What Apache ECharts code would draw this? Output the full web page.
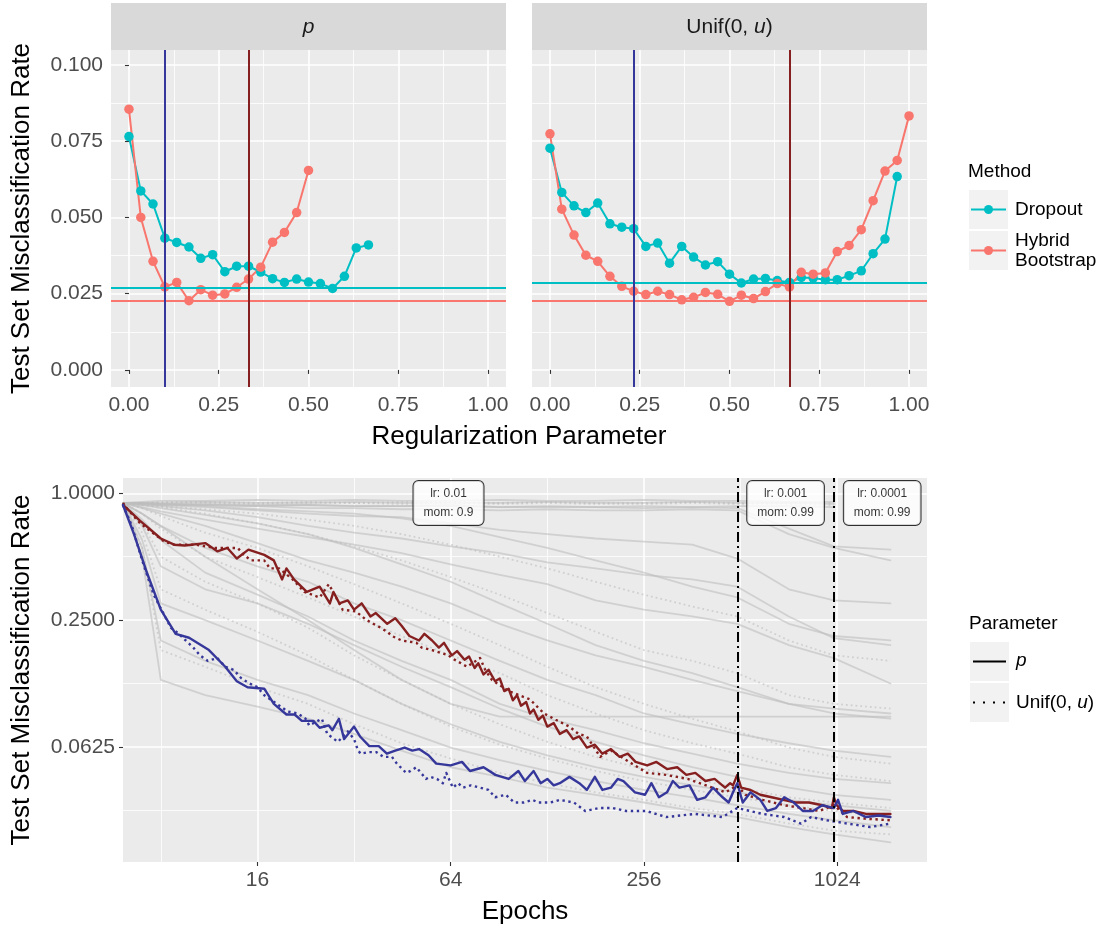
<!DOCTYPE html>
<html>
<head>
<meta charset="utf-8">
<script src="https://cdn.jsdelivr.net/npm/echarts@6/dist/echarts.min.js"></script>
<style>
  html, body { margin: 0; padding: 0; background: #fff; }
  #chart { width: 1099px; height: 928px; }
</style>
</head>
<body>
<div id="chart"></div>
<script>
// ---- top panels: misclassification vs regularization parameter ----
const paramValues = [0, 0.033, 0.067, 0.1, 0.133, 0.167, 0.2, 0.233, 0.267, 0.3, 0.333, 0.367, 0.4, 0.433, 0.467, 0.5,
  0.533, 0.567, 0.6, 0.633, 0.667, 0.7, 0.733, 0.767, 0.8, 0.833, 0.867, 0.9, 0.933, 0.967, 1.0];
const dropoutP = [0.0765, 0.0587, 0.0544, 0.0432, 0.0418, 0.0403, 0.0366, 0.0378, 0.0322, 0.0340, 0.0340, 0.0321,
  0.0299, 0.0287, 0.0298, 0.0288, 0.0283, 0.0267, 0.0307, 0.0400, 0.0410];
const hybridP = [0.0855, 0.0500, 0.0356, 0.0272, 0.0287, 0.0227, 0.0263, 0.0245, 0.0249, 0.0271, 0.0298, 0.0337,
  0.0419, 0.0451, 0.0516, 0.0654];
const dropoutU = [0.0727, 0.0582, 0.0538, 0.0516, 0.0547, 0.0479, 0.0468, 0.0463, 0.0405, 0.0416, 0.0350, 0.0405,
  0.0370, 0.0344, 0.0355, 0.0314, 0.0285, 0.0298, 0.0300, 0.0293, 0.0287, 0.0303, 0.0301, 0.0296, 0.0296, 0.0309,
  0.0325, 0.0381, 0.0429, 0.0634];
const hybridU = [0.0774, 0.0527, 0.0442, 0.0376, 0.0356, 0.0307, 0.0274, 0.0258, 0.0247, 0.0258, 0.0247, 0.0230,
  0.0238, 0.0254, 0.0248, 0.0225, 0.0245, 0.0234, 0.0257, 0.0283, 0.0272, 0.0320, 0.0314, 0.0318, 0.0388, 0.0408,
  0.0460, 0.0555, 0.0652, 0.0687, 0.0833];
const baseDropout = [0.0269, 0.0286];   // per facet: p, Unif(0, u)
const baseHybrid = [0.0227, 0.0227];
const bestP = [0.1, 0.3333];            // blue, dark red
const bestU = [0.2333, 0.6667];
const paramTicks = [0, 0.25, 0.5, 0.75, 1];
const paramMinor = [0.125, 0.375, 0.625, 0.875];
const rateTicksTop = [0, 0.025, 0.05, 0.075, 0.1];
const rateMinorTop = [0.0125, 0.0375, 0.0625, 0.0875];

// ---- bottom panel: misclassification vs epochs ----
const epochTicks = [16, 64, 256, 1024];
const epochMinor = [8, 32, 128, 512];
const rateTicks = [0.0625, 0.25, 1];
const rateMinor = [0.03125, 0.125, 0.5];
const lrChanges = [500, 1000];
const lrLabels = ['lr: 0.01\nmom: 0.9', 'lr: 0.001\nmom: 0.99', 'lr: 0.0001\nmom: 0.99'];
const lrLabelEpochs = [63, 707, 1414];
const lrLabelRate = 0.9;

const redSolid = [[6.1, 0.88], [6.9, 0.74], [8, 0.61], [8.8, 0.57], [9.5, 0.565], [11, 0.58], [12, 0.53], [12.9, 0.55],
  [13.8, 0.49], [15, 0.54], [16.8, 0.51], [18, 0.48], [19.1, 0.39], [19.7, 0.44], [20.8, 0.39], [22.8, 0.34], [25, 0.36],
  [26.9, 0.30], [27.6, 0.34], [28.8, 0.30], [30.6, 0.31], [32, 0.28], [33.8, 0.30], [36, 0.26], [37.4, 0.27], [40.6, 0.24],
  [43, 0.255], [45, 0.235], [47.6, 0.21], [51, 0.20], [53, 0.215], [56, 0.20], [58.8, 0.185], [61, 0.195], [64.5, 0.17],
  [67, 0.178], [70.7, 0.162], [73, 0.168], [76, 0.148], [78, 0.156], [81, 0.138], [84, 0.145], [88, 0.128], [91, 0.132],
  [94, 0.115], [97, 0.118], [100, 0.104], [103, 0.11], [106, 0.098], [110, 0.102], [113, 0.09], [116, 0.094], [120, 0.084],
  [124, 0.088], [128, 0.078], [134, 0.081], [140, 0.072], [147, 0.075], [154, 0.068], [161, 0.07], [170, 0.062], [180, 0.064],
  [190, 0.058], [202, 0.061], [215, 0.056], [228, 0.058], [241, 0.053], [262, 0.051], [280, 0.053], [302, 0.049], [325, 0.05],
  [347, 0.046], [370, 0.047], [398, 0.043], [425, 0.044], [458, 0.040], [475, 0.042], [485, 0.041], [500, 0.046], [514, 0.040],
  [550, 0.039], [590, 0.037], [640, 0.036], [695, 0.035], [760, 0.034], [836, 0.034], [920, 0.033], [985, 0.032], [1000, 0.036],
  [1020, 0.033], [1066, 0.031], [1150, 0.031], [1259, 0.030], [1380, 0.030], [1500, 0.030]];
const redDotted = [[6.1, 0.9], [6.3, 0.84], [6.9, 0.72], [8.2, 0.59], [8.8, 0.57], [9.5, 0.57], [10.3, 0.57], [11, 0.56],
  [11.8, 0.55], [13.9, 0.55], [14.5, 0.51], [15.3, 0.48], [16.8, 0.48], [17.5, 0.44], [18.7, 0.44], [20.6, 0.39], [22.4, 0.34],
  [25, 0.32], [26.7, 0.37], [29.5, 0.28], [32.4, 0.275], [35, 0.25], [38.7, 0.23], [40.6, 0.22], [42, 0.21], [45, 0.2],
  [50, 0.195], [52, 0.185], [56, 0.18], [63, 0.17], [64.5, 0.165], [72, 0.15], [79, 0.165], [82, 0.145], [86, 0.13],
  [97, 0.115], [113, 0.105], [125, 0.09], [136, 0.084], [150, 0.078], [160, 0.072], [170, 0.07], [187, 0.056], [202, 0.06],
  [235, 0.052], [262, 0.047], [300, 0.046], [350, 0.044], [400, 0.041], [460, 0.038], [500, 0.041], [530, 0.037], [600, 0.035],
  [700, 0.033], [800, 0.032], [900, 0.031], [1000, 0.033], [1100, 0.029], [1250, 0.0285], [1500, 0.028]];
const blueSolid = [[6.1, 0.88], [6.6, 0.64], [7.2, 0.43], [8, 0.28], [8.9, 0.215], [9.8, 0.206], [11.3, 0.18], [12.7, 0.15],
  [13.8, 0.128], [14.9, 0.12], [16.8, 0.118], [18, 0.10], [19.7, 0.089], [20.9, 0.089], [22, 0.083], [23.9, 0.083], [25, 0.077],
  [26.7, 0.079], [27.4, 0.075], [28.7, 0.085], [29.8, 0.068], [32, 0.078], [33.4, 0.07], [35.7, 0.063], [38.2, 0.063],
  [40.5, 0.058], [43, 0.06], [46, 0.062], [48.6, 0.06], [51, 0.061], [54.6, 0.057], [57.7, 0.052], [64, 0.051], [69.4, 0.053],
  [73.5, 0.048], [81, 0.05], [88.2, 0.046], [97, 0.044], [104, 0.048], [109, 0.043], [116, 0.048], [122, 0.042], [128, 0.044],
  [134, 0.041], [140, 0.042], [150, 0.045], [161, 0.042], [170, 0.039], [180, 0.045], [190, 0.039], [202, 0.04], [212, 0.044],
  [221, 0.043], [240, 0.038], [258, 0.037], [270, 0.042], [285, 0.036], [302, 0.038], [315, 0.043], [330, 0.04], [355, 0.041],
  [375, 0.035], [398, 0.036], [420, 0.04], [450, 0.036], [470, 0.034], [485, 0.038], [500, 0.042], [520, 0.034], [550, 0.038],
  [590, 0.035], [620, 0.031], [660, 0.032], [700, 0.036], [750, 0.034], [800, 0.031], [860, 0.031], [920, 0.033], [1000, 0.032],
  [1030, 0.035], [1066, 0.03], [1150, 0.031], [1259, 0.029], [1380, 0.0295], [1500, 0.029]];
const blueDotted = [[6.1, 0.88], [6.5, 0.7], [7.0, 0.48], [7.6, 0.33], [8.6, 0.23], [9.1, 0.215], [10.1, 0.185], [10.6, 0.17],
  [11.2, 0.16], [12, 0.165], [12.7, 0.15], [13.5, 0.145], [14.2, 0.133], [15.1, 0.125], [16, 0.12], [16.8, 0.11], [19.9, 0.092],
  [21.4, 0.09], [22.6, 0.085], [23.2, 0.079], [25.4, 0.085], [26.4, 0.072], [28.5, 0.066], [30.6, 0.074], [32, 0.068],
  [32.8, 0.061], [33.5, 0.058], [35.5, 0.059], [37.5, 0.059], [39.5, 0.056], [42, 0.056], [43.5, 0.052], [46.5, 0.047],
  [48, 0.048], [50, 0.05], [53.6, 0.044], [55.3, 0.045], [58, 0.044], [60.5, 0.042], [62, 0.047], [65, 0.04], [67.5, 0.042],
  [70, 0.04], [74, 0.041], [79, 0.04], [84, 0.039], [88, 0.036], [95, 0.037], [101, 0.034], [108, 0.034], [115, 0.035],
  [120, 0.034], [131, 0.034], [140, 0.035], [155, 0.034], [168, 0.031], [185, 0.032], [205, 0.032], [225, 0.031], [260, 0.031],
  [300, 0.029], [370, 0.03], [450, 0.029], [500, 0.032], [600, 0.03], [700, 0.029], [790, 0.027], [850, 0.029], [950, 0.028],
  [1100, 0.027], [1300, 0.026], [1500, 0.027]];

// background runs, sampled at these epochs (null = run not recorded)
const grayEpochs = [6.1, 7, 8, 11, 16, 23, 32, 45, 64, 91, 128, 181, 256, 362, 500, 724, 1000, 1500];
const graySolid = [
  [0.9, 0.9, 0.9, 0.91, 0.9, 0.9, 0.91, 0.9, 0.9, 0.9, 0.91, 0.9, 0.9, 0.91, 0.9, 0.9, 0.89, null],
  [0.9, 0.91, 0.92, 0.92, 0.93, 0.92, 0.93, 0.92, 0.92, 0.93, 0.92, 0.92, 0.93, 0.92, 0.92, 0.91, 0.91, null],
  [0.9, 0.89, 0.88, 0.88, 0.87, 0.88, 0.87, 0.87, 0.88, 0.86, 0.87, 0.86, 0.87, 0.86, 0.87, 0.87, 0.86, null],
  [0.9, 0.9, 0.89, 0.89, 0.88, 0.88, 0.87, 0.87, 0.87, 0.86, 0.86, 0.86, 0.85, 0.86, 0.85, 0.68, 0.56, 0.54],
  [0.9, 0.89, 0.89, 0.88, 0.87, 0.85, 0.85, 0.84, 0.84, 0.83, 0.84, 0.83, 0.83, 0.84, 0.83, 0.64, 0.55, 0.48],
  [0.9, 0.89, 0.88, 0.86, 0.83, 0.8, 0.78, 0.77, 0.72, 0.67, 0.64, 0.61, 0.59, 0.57, 0.49, 0.35, 0.31, 0.30],
  [0.9, 0.88, 0.87, 0.83, 0.77, 0.7, 0.65, 0.61, 0.56, 0.52, 0.47, 0.44, 0.41, 0.39, 0.36, 0.26, 0.205, 0.19],
  [0.9, 0.86, 0.82, 0.75, 0.68, 0.62, 0.57, 0.52, 0.46, 0.41, 0.37, 0.31, 0.28, 0.26, 0.24, 0.19, 0.165, 0.125],
  [0.9, 0.8, 0.7, 0.5, 0.35, 0.25, 0.18, 0.13, 0.1, 0.087, 0.087, 0.087, 0.087, 0.087, 0.087, 0.087, 0.087, 0.087],
  [0.9, 0.85, 0.8, 0.7, 0.58, 0.48, 0.42, 0.36, 0.3, 0.24, 0.2, 0.17, 0.15, 0.13, 0.115, 0.1, 0.09, 0.085],
  [0.9, 0.8, 0.7, 0.55, 0.45, 0.38, 0.3, 0.25, 0.2, 0.16, 0.13, 0.11, 0.09, 0.08, 0.072, 0.065, 0.06, 0.056],
  [0.9, 0.75, 0.6, 0.42, 0.33, 0.26, 0.2, 0.16, 0.13, 0.1, 0.085, 0.075, 0.065, 0.058, 0.052, 0.047, 0.044, 0.042],
  [0.9, 0.5, 0.13, 0.11, 0.097, 0.085, 0.072, 0.06, 0.05, 0.045, 0.04, 0.037, 0.034, 0.031, 0.029, 0.026, 0.024, 0.022],
  [0.9, 0.55, 0.2, 0.16, 0.13, 0.11, 0.09, 0.075, 0.062, 0.054, 0.048, 0.043, 0.039, 0.036, 0.033, 0.03, 0.028, 0.026],
  [0.9, 0.6, 0.3, 0.25, 0.2, 0.16, 0.13, 0.1, 0.08, 0.066, 0.057, 0.05, 0.045, 0.041, 0.038, 0.035, 0.033, 0.031],
  [0.9, 0.7, 0.45, 0.35, 0.3, 0.24, 0.19, 0.15, 0.12, 0.095, 0.078, 0.066, 0.057, 0.05, 0.045, 0.04, 0.037, 0.035],
  [0.9, 0.9, 0.89, 0.87, 0.84, 0.82, 0.8, 0.76, 0.7, 0.62, 0.55, 0.48, 0.42, 0.36, 0.32, 0.24, 0.21, 0.2],
  [0.9, 0.88, 0.85, 0.79, 0.72, 0.64, 0.55, 0.46, 0.38, 0.3, 0.24, 0.19, 0.16, 0.14, 0.12, 0.1, 0.095, 0.09]
];
const grayDotted = [
  [0.9, 0.9, 0.9, 0.9, 0.89, 0.9, 0.9, 0.89, 0.9, 0.89, 0.9, 0.89, 0.89, 0.9, 0.89, 0.89, 0.88, null],
  [0.9, 0.9, 0.91, 0.91, 0.9, 0.91, 0.9, 0.91, 0.91, 0.9, 0.91, 0.9, 0.9, 0.91, 0.9, 0.9, 0.9, null],
  [0.9, 0.88, 0.86, 0.8, 0.72, 0.64, 0.56, 0.48, 0.4, 0.33, 0.27, 0.22, 0.18, 0.16, 0.14, 0.11, 0.1, 0.095],
  [0.9, 0.8, 0.68, 0.5, 0.4, 0.32, 0.26, 0.21, 0.17, 0.14, 0.11, 0.09, 0.075, 0.065, 0.058, 0.05, 0.046, 0.043],
  [0.9, 0.55, 0.18, 0.15, 0.12, 0.1, 0.08, 0.065, 0.055, 0.047, 0.042, 0.038, 0.035, 0.032, 0.03, 0.027, 0.025, 0.024],
  [0.9, 0.65, 0.35, 0.28, 0.22, 0.17, 0.13, 0.1, 0.078, 0.064, 0.055, 0.048, 0.043, 0.039, 0.036, 0.033, 0.031, 0.029],
  [0.9, 0.85, 0.78, 0.65, 0.55, 0.45, 0.37, 0.3, 0.24, 0.19, 0.15, 0.12, 0.1, 0.085, 0.074, 0.062, 0.056, 0.052],
  [0.9, 0.89, 0.87, 0.84, 0.8, 0.75, 0.7, 0.64, 0.57, 0.5, 0.44, 0.38, 0.33, 0.29, 0.26, 0.2, 0.17, 0.16],
  [0.9, 0.72, 0.5, 0.38, 0.3, 0.23, 0.17, 0.13, 0.1, 0.08, 0.066, 0.056, 0.049, 0.044, 0.04, 0.036, 0.034, 0.032]
];

// ---- styling ----
const FONT = '"Liberation Sans", Arial, sans-serif';
const CYAN = '#00BFC4';
const SALMON = '#F8766D';
const DARKRED = '#861F1F';
const DARKBLUE = '#36379A';
const GRAY_RUN = 'rgba(190,190,190,0.6)';

function axisPair(dim, type, gridIndex, min, max, ticks, minor, opt) {
  const base = {
    type: type, gridIndex: gridIndex, min: min, max: max, axisLine: { show: false },
    position: dim === 'x' ? 'bottom' : 'left', offset: 0
  };
  if (type === 'log') base.logBase = 2;
  const minorAxis = Object.assign({}, base, {
    axisTick: { show: false, customValues: minor },
    axisLabel: { show: false, customValues: minor },
    splitLine: { show: true, showMinLine: true, showMaxLine: true, lineStyle: { color: '#fff', width: 0.8 } }
  });
  const mainAxis = Object.assign({}, base, {
    axisTick: { show: opt.ticks, customValues: ticks, length: 4, lineStyle: { color: '#333', width: 1.1 } },
    axisLabel: {
      show: opt.labels, customValues: ticks, formatter: opt.fmt, color: '#4D4D4D',
      fontSize: 21, fontFamily: FONT, margin: 8
    },
    splitLine: { show: true, showMinLine: true, showMaxLine: true, lineStyle: { color: '#fff', width: 1.6 } },
    name: opt.name || '',
    nameLocation: 'middle',
    nameGap: opt.nameGap || 0,
    nameTextStyle: { fontSize: 26, fontFamily: FONT, color: '#000' }
  });
  return [minorAxis, mainAxis];
}

// axis index layout: minor = even, main = odd
const xAxes = [].concat(
  axisPair('x', 'value', 0, -0.05, 1.05, paramTicks, paramMinor, { ticks: true, labels: true, fmt: v => v.toFixed(2) }),
  axisPair('x', 'value', 1, -0.05, 1.05, paramTicks, paramMinor, { ticks: true, labels: true, fmt: v => v.toFixed(2) }),
  axisPair('x', 'log', 2, 6.1, 1950, epochTicks, epochMinor, { ticks: true, labels: true, fmt: v => String(Math.round(v)), name: 'Epochs', nameGap: 37 })
);
const yAxes = [].concat(
  axisPair('y', 'value', 0, -0.0056, 0.1049, rateTicksTop, rateMinorTop, { ticks: true, labels: true, fmt: v => v.toFixed(3), name: 'Test Set Misclassification Rate', nameGap: 76 }),
  axisPair('y', 'value', 1, -0.0056, 0.1049, rateTicksTop, rateMinorTop, { ticks: false, labels: false }),
  axisPair('y', 'log', 2, 0.01774, 1.182, rateTicks, rateMinor, { ticks: true, labels: true, fmt: v => v.toFixed(4), name: 'Test Set Misclassification Rate', nameGap: 88 })
);

const markBase = { silent: true, symbol: ['none', 'none'], label: { show: false }, animation: false, precision: 6 };

function paramSeries(name, values, color, axisIdx, marks) {
  return {
    type: 'line', name: name, xAxisIndex: axisIdx, yAxisIndex: axisIdx,
    data: values.map((v, i) => [paramValues[i], v]),
    symbol: 'circle', symbolSize: 9.5, showSymbol: true,
    lineStyle: { color: color, width: 2 }, itemStyle: { color: color },
    markLine: Object.assign({}, markBase, { data: marks, lineStyle: { width: 2, type: 'solid' } }),
    silent: true, z: 3
  };
}

function runSeries(data, color, width, dash, z) {
  const dotted = Array.isArray(dash);
  return {
    type: 'line', xAxisIndex: 5, yAxisIndex: 5, data: data,
    symbol: 'none', showSymbol: false, silent: true, z: z,
    lineStyle: { color: color, width: width, type: dash, cap: dotted ? 'butt' : 'round', join: 'round' }
  };
}

const series = [];
// top-left facet (p)
series.push(paramSeries('Dropout', dropoutP, CYAN, 1, [{ yAxis: baseDropout[0], lineStyle: { color: CYAN } }]));
series.push(paramSeries('Hybrid Bootstrap', hybridP, SALMON, 1, [
  { yAxis: baseHybrid[0], lineStyle: { color: SALMON } },
  { xAxis: bestP[0], lineStyle: { color: DARKBLUE } },
  { xAxis: bestP[1], lineStyle: { color: DARKRED } }
]));
// top-right facet (Unif(0, u))
series.push(paramSeries('Dropout', dropoutU, CYAN, 3, [{ yAxis: baseDropout[1], lineStyle: { color: CYAN } }]));
series.push(paramSeries('Hybrid Bootstrap', hybridU, SALMON, 3, [
  { yAxis: baseHybrid[1], lineStyle: { color: SALMON } },
  { xAxis: bestU[0], lineStyle: { color: DARKBLUE } },
  { xAxis: bestU[1], lineStyle: { color: DARKRED } }
]));

// bottom: background runs
graySolid.forEach(vals => {
  const pts = grayEpochs.map((e, i) => vals[i] == null ? null : [e, vals[i]]).filter(p => p);
  series.push(runSeries(pts, GRAY_RUN, 1.8, 'solid', 1));
});
grayDotted.forEach(vals => {
  const pts = grayEpochs.map((e, i) => vals[i] == null ? null : [e, vals[i]]).filter(p => p);
  series.push(runSeries(pts, GRAY_RUN, 1.8, [1.8, 3], 1));
});
// highlighted runs
series.push(runSeries(redDotted, DARKRED, 2.4, [2.4, 3.6], 3));
series.push(runSeries(blueDotted, DARKBLUE, 2.4, [2.4, 3.6], 3));
const redMain = runSeries(redSolid, DARKRED, 2.4, 'solid', 4);
redMain.markLine = Object.assign({}, markBase, {
  data: lrChanges.map(e => ({ xAxis: e })),
  lineStyle: { color: '#000', width: 2, type: [10, 4, 2, 4] }
});
series.push(redMain);
series.push(runSeries(blueSolid, DARKBLUE, 2.4, 'solid', 4));
// learning-rate schedule labels
series.push({
  type: 'scatter', xAxisIndex: 5, yAxisIndex: 5, silent: true, z: 10,
  data: lrLabelEpochs.map(e => [e, lrLabelRate]),
  symbolSize: 1, itemStyle: { color: 'rgba(0,0,0,0)' },
  label: {
    show: true, position: 'inside', formatter: p => lrLabels[p.dataIndex],
    fontFamily: FONT, fontSize: 12, color: '#000', lineHeight: 19, align: 'center',
    backgroundColor: '#fff', borderColor: '#000', borderWidth: 1, borderRadius: 5, padding: [3, 10, 3, 10]
  }
});

const txt = (x, y, text, extra) => ({
  type: 'text', x: x, y: y, silent: true,
  style: Object.assign({ text: text, fontFamily: FONT, fontSize: 19, fill: '#000', textAlign: 'left', textVerticalAlign: 'middle' }, extra || {})
});
const keyBox = (x, y) => ({ type: 'rect', shape: { x: x, y: y, width: 39, height: 39 }, style: { fill: '#F2F2F2' }, silent: true });
const italicRich = {
  n: { fontFamily: FONT, fontSize: 19, fill: '#000', color: '#000' },
  i: { fontFamily: FONT, fontSize: 19, fontStyle: 'italic', fill: '#000', color: '#000' }
};
const stripRich = {
  n: { fontFamily: FONT, fontSize: 21, fill: '#1A1A1A', color: '#1A1A1A' },
  i: { fontFamily: FONT, fontSize: 21, fontStyle: 'italic', fill: '#1A1A1A', color: '#1A1A1A' }
};

const graphic = [
  // facet strips
  { type: 'rect', shape: { x: 111, y: 3, width: 395, height: 47 }, style: { fill: '#D9D9D9' }, silent: true },
  { type: 'rect', shape: { x: 532, y: 3, width: 395, height: 47 }, style: { fill: '#D9D9D9' }, silent: true },
  txt(308.5, 27, '{i|p}', { textAlign: 'center', rich: stripRich }),
  txt(729.5, 27, '{n|Unif(0, }{i|u}{n|)}', { textAlign: 'center', rich: stripRich }),
  txt(519, 437, 'Regularization Parameter', { textAlign: 'center', fontSize: 26 }),
  // legend: Method
  txt(968, 172, 'Method'),
  keyBox(969, 190), keyBox(969, 231),
  { type: 'line', shape: { x1: 971, y1: 209.5, x2: 1006, y2: 209.5 }, style: { stroke: CYAN, lineWidth: 2 }, silent: true },
  { type: 'circle', shape: { cx: 988.5, cy: 209.5, r: 4.5 }, style: { fill: CYAN }, silent: true },
  { type: 'line', shape: { x1: 971, y1: 250.5, x2: 1006, y2: 250.5 }, style: { stroke: SALMON, lineWidth: 2 }, silent: true },
  { type: 'circle', shape: { cx: 988.5, cy: 250.5, r: 4.5 }, style: { fill: SALMON }, silent: true },
  txt(1015, 210, 'Dropout'),
  txt(1015, 251, 'Hybrid\nBootstrap', { lineHeight: 20 }),
  // legend: Parameter
  txt(969, 624, 'Parameter'),
  keyBox(970, 642), keyBox(970, 683),
  { type: 'line', shape: { x1: 973, y1: 661.5, x2: 1006, y2: 661.5 }, style: { stroke: '#000', lineWidth: 2 }, silent: true },
  { type: 'line', shape: { x1: 973, y1: 702.5, x2: 1006, y2: 702.5 }, style: { stroke: '#000', lineWidth: 2, lineDash: [2, 8] }, silent: true },
  txt(1016, 661, '{i|p}', { rich: italicRich }),
  txt(1016, 703, '{n|Unif(0, }{i|u}{n|)}', { rich: italicRich })
];

const chart = echarts.init(document.getElementById('chart'), null, { renderer: 'canvas' });
chart.setOption({
  animation: false,
  backgroundColor: '#fff',
  grid: [
    { left: 111, top: 50, width: 395, height: 337, show: true, backgroundColor: '#EBEBEB', borderWidth: 0 },
    { left: 532, top: 50, width: 395, height: 337, show: true, backgroundColor: '#EBEBEB', borderWidth: 0 },
    { left: 123, top: 478, width: 804, height: 384, show: true, backgroundColor: '#EBEBEB', borderWidth: 0 }
  ],
  xAxis: xAxes,
  yAxis: yAxes,
  series: series,
  graphic: graphic
});
</script>
</body>
</html>
